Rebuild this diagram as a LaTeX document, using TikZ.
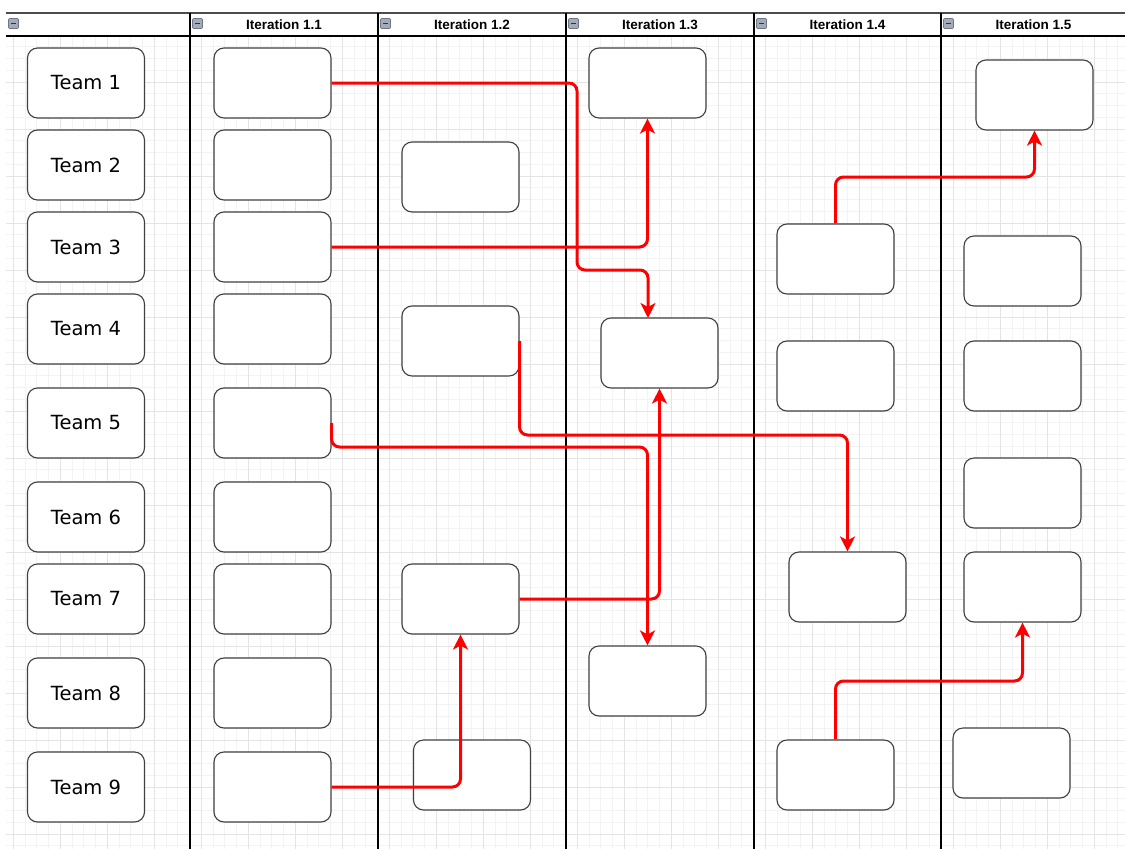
\documentclass[tikz,border=0pt]{standalone}
\usepackage{fontspec}
\newfontfamily\teamfont{DejaVu Sans}
\newfontfamily\headfont{Liberation Sans}
\usetikzlibrary{arrows.meta}
\definecolor{gridminor}{HTML}{F3F3F3}
\definecolor{gridmajor}{HTML}{E4E4E4}
\definecolor{boxline}{HTML}{404040}
\definecolor{iconfill}{HTML}{A4ABB8}
\definecolor{iconline}{HTML}{6E7684}
\begin{document}
\begin{tikzpicture}[x=1pt,y=-1pt,
  card/.style={draw=boxline,line width=1.1pt,fill=white,rounded corners=10pt,
    minimum width=117pt,minimum height=70pt,inner sep=0pt,font=\teamfont\fontsize{19.5}{21}\selectfont},
  flow/.style={draw=red,line width=3pt,rounded corners=8pt,
    -{Stealth[length=15pt,width=15pt,inset=4pt]}},
  colline/.style={draw=black,line width=1.1pt},
  headlbl/.style={font=\headfont\bfseries\fontsize{13.5}{15}\selectfont,inner sep=0pt},
  minusicon/.style={draw=iconline,fill=iconfill,line width=0.6pt,rounded corners=1pt}
]
\useasboundingbox (0,0) rectangle (1125,849);
\fill[white] (0,0) rectangle (1125,849);
% grid
\begin{scope}
\clip (6,36) rectangle (1125,849);
\foreach \i in {0,...,94} {\draw[gridminor,line width=0.8pt] ({13.3+11.75*\i},36) -- ({13.3+11.75*\i},849);}
\foreach \j in {0,...,69} {\draw[gridminor,line width=0.8pt] (6,{35+11.75*\j}) -- (1125,{35+11.75*\j});}
\foreach \i in {0,...,23} {\draw[gridmajor,line width=0.8pt] ({13.3+47*\i},36) -- ({13.3+47*\i},849);}
\foreach \j in {0,...,17} {\draw[gridmajor,line width=0.8pt] (6,{35+47*\j}) -- (1125,{35+47*\j});}
\end{scope}
% table frame
\draw[draw=black!70,line width=1.3pt] (6,13) -- (1125,13);
\draw[draw=black,line width=1.4pt] (6,36) -- (1125,36);
\foreach \x in {190,378,566,754,941} {\draw[colline] (\x,13) -- (\x,849);}
% minus icons
\foreach \x in {6,190,378,566,754,941} {
  \draw[minusicon] (\x+2.5,18.5) rectangle (\x+12.5,28.5);
  \draw[black!80,line width=1.3pt] (\x+5,23.5) -- (\x+10,23.5);
}
% header labels
\node[headlbl] (h1) at (284,24.5) {Iteration 1.1};
\node[headlbl] (h2) at (472,24.5) {Iteration 1.2};
\node[headlbl] (h3) at (660,24.5) {Iteration 1.3};
\node[headlbl] (h4) at (847.5,24.5) {Iteration 1.4};
\node[headlbl] (h5) at (1033.5,24.5) {Iteration 1.5};
% teams
\node[card] (t1) at (86,83) {Team 1};
\node[card] (t2) at (86,165) {Team 2};
\node[card] (t3) at (86,247) {Team 3};
\node[card] (t4) at (86,329) {Team 4};
\node[card] (t5) at (86,423) {Team 5};
\node[card] (t6) at (86,517) {Team 6};
\node[card] (t7) at (86,599) {Team 7};
\node[card] (t8) at (86,693) {Team 8};
\node[card] (t9) at (86,787) {Team 9};
% iteration 1.1
\node[card] (b1) at (272.5,83) {};
\node[card] (b2) at (272.5,165) {};
\node[card] (b3) at (272.5,247) {};
\node[card] (b4) at (272.5,329) {};
\node[card] (b5) at (272.5,423) {};
\node[card] (b6) at (272.5,517) {};
\node[card] (b7) at (272.5,599) {};
\node[card] (b8) at (272.5,693) {};
\node[card] (b9) at (272.5,787) {};
% iteration 1.2
\node[card] (c1) at (460.5,177) {};
\node[card] (c2) at (460.5,341) {};
\node[card] (c3) at (460.5,599) {};
\node[card] (c4) at (472,775) {};
% iteration 1.3
\node[card] (d1) at (647.5,83) {};
\node[card] (d2) at (659.5,353) {};
\node[card] (d3) at (647.5,681) {};
% iteration 1.4
\node[card] (e1) at (835.5,259) {};
\node[card] (e2) at (835.5,376) {};
\node[card] (e3) at (847.5,587) {};
\node[card] (e4) at (835.5,775) {};
% iteration 1.5
\node[card] (f1) at (1034.5,95) {};
\node[card] (f2) at (1022.5,271) {};
\node[card] (f3) at (1022.5,376) {};
\node[card] (f4) at (1022.5,493) {};
\node[card] (f5) at (1022.5,587) {};
\node[card] (f6) at (1011.5,763) {};
% connectors
\coordinate (k1) at (577,270);
\draw[flow] (b1.east) -| (k1) -| (648,318);
\draw[flow] (b3.east) -| (d1.south);
\coordinate (k3) at (847.5,435);
\draw[flow] (c2.east) |- (k3) -- (e3.north);
\coordinate (k4) at (647.5,447);
\draw[flow] (b5.east) |- (k4) -- (d3.north);
\draw[flow] (c3.east) -| (d2.south);
\draw[flow] (b9.east) -| (c3.south);
\coordinate (k7) at (835.5,177);
\draw[flow] (e1.north) -- (k7) -| (f1.south);
\coordinate (k8) at (835.5,681);
\draw[flow] (e4.north) -- (k8) -| (f5.south);
\end{tikzpicture}
\end{document}
